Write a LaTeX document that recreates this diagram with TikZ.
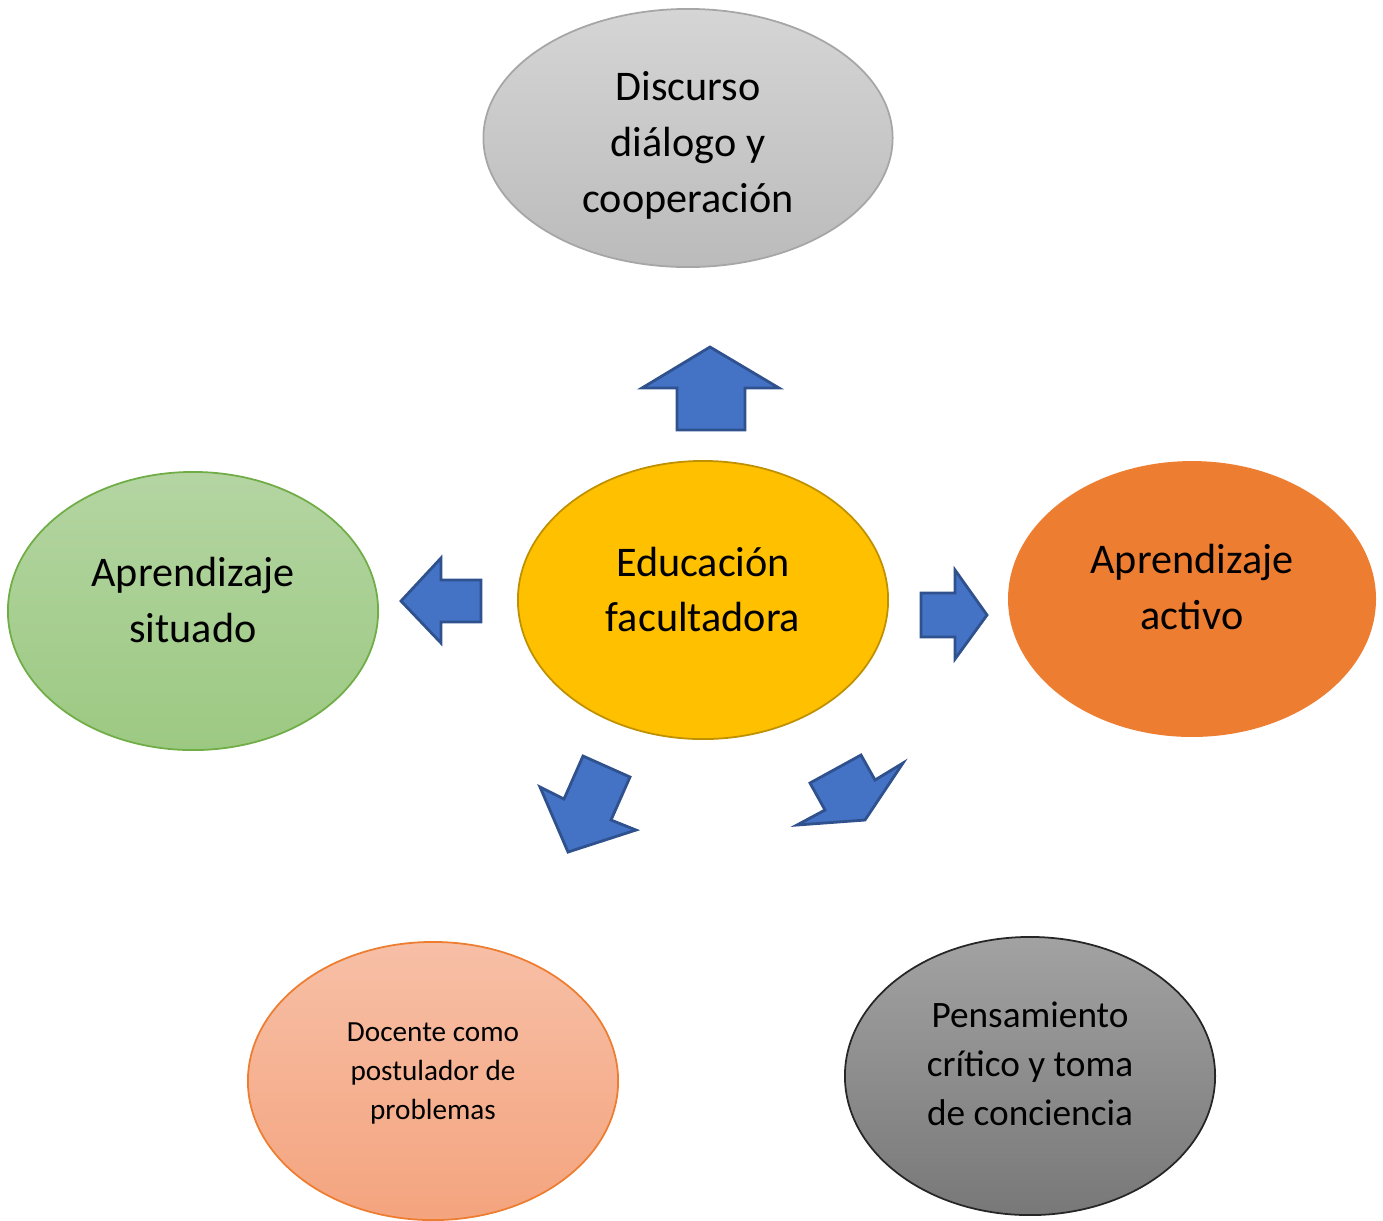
\documentclass[tikz,border=0pt]{standalone}
\usepackage{fontspec}
\setmainfont{Carlito}
\usetikzlibrary{shapes.geometric}

\definecolor{azul}{HTML}{4472C4}
\definecolor{azulosc}{HTML}{2F528F}
\definecolor{gristop}{HTML}{D5D5D5}
\definecolor{grisbot}{HTML}{BBBBBB}
\definecolor{verdetop}{HTML}{B4D5A2}
\definecolor{verdebot}{HTML}{9CC982}
\definecolor{verdeosc}{HTML}{70AD47}
\definecolor{amarillo}{HTML}{FFC000}
\definecolor{amarilloosc}{HTML}{BF9000}
\definecolor{naranja}{HTML}{ED7D31}
\definecolor{salmontop}{HTML}{F7BFA6}
\definecolor{salmonbot}{HTML}{F4A47E}
\definecolor{oscurotop}{HTML}{A2A2A2}
\definecolor{oscurobot}{HTML}{787878}

\tikzset{
  elip/.style={ellipse, minimum width=3.70cm, minimum height=2.78cm, inner sep=0pt, line width=0.5pt},
  texto/.style={align=center, inner sep=0pt},
  grande/.style={texto, font=\fontsize{12}{15.9}\selectfont},
  flecha/.style={fill=azul, draw=azulosc, line width=0.8pt, line join=miter}
}

\begin{document}
\begin{tikzpicture}[x=0.01cm, y=-0.01cm]
\useasboundingbox (0,0) rectangle (1383,1220);

	\node (disc)[elip, minimum width=4.09cm, minimum height=2.58cm, draw=gray!70, top color=gristop, bottom color=grisbot] at (688,138) {};
	\node (edu)[elip, draw=amarilloosc, fill=amarillo] at (703,600) {};
	\node (sit)[elip, draw=verdeosc, top color=verdetop, bottom color=verdebot] at (193,611) {};
	\node (act)[elip, minimum width=3.66cm, minimum height=2.74cm, draw=naranja, fill=naranja] at (1192,599) {};
	\node (doc)[elip, draw=naranja, top color=salmontop, bottom color=salmonbot] at (433,1081) {};
	\node (pens)[elip, draw=black!85, top color=oscurotop, bottom color=oscurobot] at (1030,1076) {};

	\node (disctxt)[grande] at (688,145) {Discurso\\diálogo y\\cooperación};
	\node (edutxt)[grande] at (703,589.5) {Educación\\facultadora};
	\node (sittxt)[grande] at (193,600) {Aprendizaje\\situado};
	\node (acttxt)[grande] at (1192,587) {Aprendizaje\\activo};
	\node (doctxt)[texto, font=\fontsize{8.3}{11.1}\selectfont] at (433,1073) {Docente como\\postulador de\\problemas};
	\node (penstxt)[texto, font=\fontsize{10.6}{13.9}\selectfont] at (1030,1064) {Pensamiento\\crítico y toma\\de conciencia};

	% flechas de bloque
	\draw [flecha] (710,347) -- (779,388) -- (745,388) -- (745,430) -- (677,430) -- (677,388) -- (642,388) -- cycle;
	\draw [flecha] (401,601) -- (441,558) -- (441,580) -- (481,580) -- (481,622) -- (441,622) -- (441,643) -- cycle;
	\draw [flecha] (987,615) -- (955,659) -- (955,637) -- (921,637) -- (921,593) -- (955,593) -- (955,570) -- cycle;
	\draw [flecha] (568,852) -- (540,787) -- (564,799) -- (583,756) -- (630,777) -- (611,820) -- (636,830) -- cycle;
	\draw [flecha] (797,825) -- (825,810) -- (810,783) -- (861,755) -- (875,780) -- (903,763) -- (865,820) -- cycle;

\end{tikzpicture}
\end{document}
